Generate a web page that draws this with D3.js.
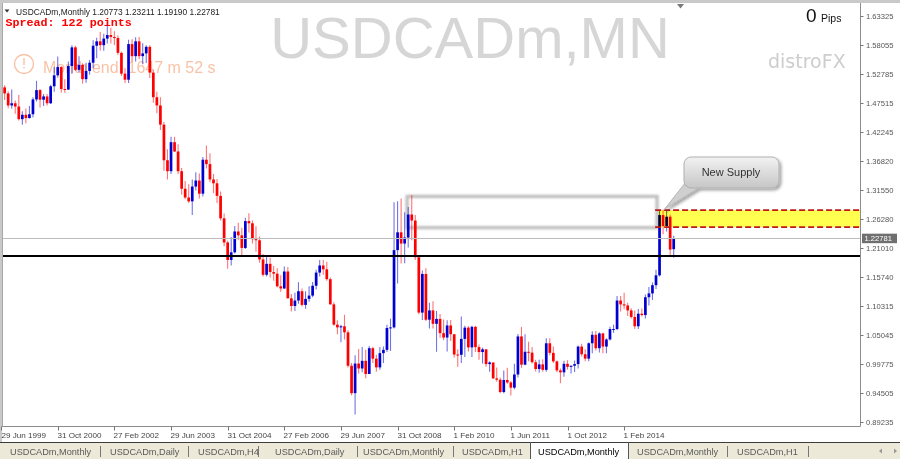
<!DOCTYPE html>
<html><head><meta charset="utf-8">
<script src="https://cdn.jsdelivr.net/npm/d3@7"></script>
<style>
body{margin:0;background:#fff;overflow:hidden}
svg{display:block;font-family:"Liberation Sans",Arial,sans-serif}
</style>
</head><body>
<svg id="c" width="900" height="459"></svg>
<script>
// ---------- DATA (monthly bars from Jul 1999 to May 2015) ----------
const firstMonth = [1999, 6]; // Jul 1999 (month index 0-based)
const open = [
1.4740,1.5030,1.4920,1.4700,1.4740,1.4680, 1.4450,1.4530,1.4470,1.4540,1.4810,1.4980,1.4805,1.4865,1.4740,1.5050,1.5250,1.5400,
1.5000,1.4990,1.5420,1.5760,1.5350,1.5440,1.5180,1.5330,1.5480,1.5790,1.5870,1.5800,
1.5920,1.5985,1.5950,1.5930,1.5660,1.5280,1.5170,1.5820,1.5600,1.5870,1.5600,1.5650,
1.5770,1.5300,1.4850,1.4700,1.4350,1.3700,1.3500,1.4030,1.3860,1.3500,1.3180,1.3020,
1.2950,1.3220,1.3330,1.3090,1.3710,1.3630,1.3350,1.3280,1.3050,1.2640,1.2200,1.1880,
1.2020,1.2400,1.2330,1.2100,1.2590,1.2550,1.2260,1.2240,1.1890,1.1610,1.1810,1.1660,
1.1630,1.1400,1.1360,1.1670,1.1180,1.1040,1.1140,1.1310,1.1060,1.1170,1.1230,1.1410,
1.1650,1.1780,1.1710,1.1530,1.1070,1.0700,1.0650,1.0670,1.0560,0.9950,0.9450,0.9990,
0.9900,1.0040,0.9800,1.0270,1.0080,0.9920,1.0180,1.0240,1.0640,1.0650,1.2060,1.2385,
1.2180,1.2290,1.2710,1.2600,1.1930,1.0920,1.1625,1.0790,1.0960,1.0715,1.0805,1.0545,
1.0465,1.0685,1.0525,1.0155,1.0150,1.0440,1.0645,1.0285,1.0660,1.0290,1.0200,1.0250,
0.9980,1.0010,0.9720,0.9695,0.9470,0.9690,0.9645,0.9550,0.9790,1.0485,0.9970,1.0205,
1.0190,1.0015,0.9890,0.9975,0.9875,1.0360,1.0185,1.0030,0.9865,0.9830,0.9985,0.9930,
0.9950,0.9980,1.0300,1.0160,1.0080,1.0360,1.0515,1.0270,1.0540,1.0300,1.0430,1.0620,
1.0620,1.1140,1.1070,1.1050,1.0960,1.0840,1.0670,1.0900,1.0875,1.1200,1.1270,1.1420,
1.1600,1.2700,1.2500,1.2670,1.20773];
const high = [
1.5200,1.5070,1.4960,1.4990,1.4790,1.4890, 1.4595,1.4645,1.4690,1.4850,1.5150,1.5000,1.4910,1.4910,1.5080,1.5400,1.5595,1.5420,
1.5180,1.5500,1.5800,1.5790,1.5600,1.5470,1.5480,1.5530,1.5890,1.5935,1.6040,1.6010,
1.6195,1.6120,1.6055,1.5980,1.5680,1.5380,1.5900,1.5910,1.5945,1.5950,1.5835,1.5800,
1.5800,1.5350,1.4950,1.4850,1.4400,1.3900,1.4130,1.4130,1.3990,1.3560,1.3320,1.3260,
1.3350,1.3480,1.3460,1.3760,1.3970,1.3830,1.3450,1.3360,1.3130,1.2730,1.2230,1.2300,
1.2500,1.2560,1.2470,1.2650,1.2735,1.2600,1.2495,1.2310,1.1990,1.1960,1.1920,1.1770,
1.1730,1.1600,1.1760,1.1750,1.1260,1.1280,1.1475,1.1360,1.1310,1.1400,1.1480,1.1700,
1.1878,1.1880,1.1850,1.1560,1.1110,1.0780,1.0700,1.0880,1.0600,1.0000,1.0140,1.0255,
1.0290,1.0240,1.0310,1.0295,1.0150,1.0290,1.0300,1.0700,1.0810,1.2935,1.2950,1.3000,
1.2750,1.2845,1.3065,1.2700,1.1940,1.1690,1.1730,1.1100,1.1125,1.0950,1.0895,1.0795,
1.0780,1.0785,1.0525,1.0250,1.0850,1.0680,1.0675,1.0680,1.0680,1.0340,1.0280,1.0250,
1.0030,1.0010,0.9920,0.9730,0.9865,0.9915,0.9670,0.9985,1.0530,1.0660,1.0525,1.0390,
1.0290,1.0060,1.0060,1.0070,1.0450,1.0450,1.0300,1.0045,0.9900,1.0040,1.0050,0.9955,
1.0045,1.0320,1.0350,1.0250,1.0380,1.0580,1.0585,1.0560,1.0550,1.0450,1.0660,1.0700,
1.1225,1.1225,1.1280,1.1100,1.1000,1.0960,1.0985,1.0995,1.1250,1.1385,1.1470,1.1700,
1.2795,1.2800,1.2800,1.2710,1.23211];
const low = [
1.4660,1.4800,1.4650,1.4640,1.4550,1.4425, 1.4350,1.4375,1.4460,1.4480,1.4770,1.4665,1.4690,1.4700,1.4725,1.4950,1.5205,1.4935,
1.4930,1.4980,1.5280,1.5330,1.5300,1.5100,1.5115,1.5260,1.5380,1.5560,1.5705,1.5700,
1.5830,1.5830,1.5805,1.5620,1.5240,1.5110,1.5110,1.5500,1.5500,1.5550,1.5450,1.5475,
1.5200,1.4750,1.4560,1.4250,1.3510,1.3350,1.3450,1.3850,1.3450,1.3070,1.2990,1.2920,
1.2700,1.3150,1.3000,1.3040,1.3550,1.3300,1.3100,1.2920,1.2600,1.2130,1.1720,1.1780,
1.2000,1.2240,1.1960,1.2080,1.2380,1.2180,1.2030,1.1830,1.1580,1.1580,1.1560,1.1500,
1.1380,1.1300,1.1350,1.1180,1.0940,1.0950,1.1080,1.1030,1.0990,1.1120,1.1200,1.1340,
1.1580,1.1610,1.1500,1.1070,1.0680,1.0525,1.0380,1.0430,0.9920,0.9410,0.9060,0.9810,
0.9830,0.9720,0.9800,1.0000,0.9840,0.9875,1.0000,1.0200,1.0220,1.0630,1.1450,1.1815,
1.1820,1.2110,1.2240,1.1880,1.0890,1.0785,1.0765,1.0630,1.0630,1.0205,1.0460,1.0415,
1.0210,1.0400,1.0100,0.9930,1.0000,1.0110,1.0210,1.0110,1.0200,1.0060,0.9990,0.9930,
0.9840,0.9710,0.9660,0.9450,0.9450,0.9620,0.9405,0.9520,0.9735,0.9910,0.9960,1.0030,
0.9990,0.9845,0.9820,0.9840,0.9840,1.0140,1.0000,0.9830,0.9630,0.9750,0.9880,0.9810,
0.9835,0.9900,1.0120,1.0030,1.0030,1.0180,1.0230,1.0190,1.0180,1.0180,1.0410,1.0550,
1.0600,1.0940,1.0980,1.0860,1.0810,1.0620,1.0620,1.0850,1.0810,1.1050,1.1150,1.1350,
1.1580,1.2350,1.2400,1.1950,1.19190];
const close = [
1.5030,1.4920,1.4700,1.4740,1.4680,1.4450, 1.4530,1.4470,1.4540,1.4810,1.4980,1.4805,1.4865,1.4740,1.5050,1.5250,1.5400,1.5000,
1.4990,1.5420,1.5760,1.5350,1.5440,1.5180,1.5330,1.5480,1.5790,1.5870,1.5800,1.5920,
1.5985,1.5950,1.5930,1.5660,1.5280,1.5170,1.5820,1.5600,1.5870,1.5600,1.5650,1.5770,
1.5300,1.4850,1.4700,1.4350,1.3700,1.3500,1.4030,1.3860,1.3500,1.3180,1.3020,1.2950,
1.3220,1.3330,1.3090,1.3710,1.3630,1.3350,1.3280,1.3050,1.2640,1.2200,1.1880,1.2020,
1.2400,1.2330,1.2100,1.2590,1.2550,1.2260,1.2240,1.1890,1.1610,1.1810,1.1660,1.1630,
1.1400,1.1360,1.1670,1.1180,1.1040,1.1140,1.1310,1.1060,1.1170,1.1230,1.1410,1.1650,
1.1780,1.1710,1.1530,1.1070,1.0700,1.0650,1.0670,1.0560,0.9950,0.9450,0.9990,0.9900,
1.0040,0.9800,1.0270,1.0080,0.9920,1.0180,1.0240,1.0640,1.0650,1.2060,1.2385,1.2180,
1.2290,1.2710,1.2600,1.1930,1.0920,1.1625,1.0790,1.0960,1.0715,1.0805,1.0545,1.0465,
1.0685,1.0525,1.0155,1.0150,1.0440,1.0645,1.0285,1.0660,1.0290,1.0200,1.0250,0.9980,
1.0010,0.9720,0.9695,0.9470,0.9690,0.9645,0.9550,0.9790,1.0485,0.9970,1.0205,1.0190,
1.0015,0.9890,0.9975,0.9875,1.0360,1.0185,1.0030,0.9865,0.9830,0.9985,0.9930,0.9950,
0.9980,1.0300,1.0160,1.0080,1.0360,1.0515,1.0270,1.0540,1.0300,1.0430,1.0620,1.0620,
1.1140,1.1070,1.1050,1.0960,1.0840,1.0670,1.0900,1.0875,1.1200,1.1270,1.1420,1.1600,
1.2700,1.2500,1.2670,1.2070,1.22781];

const priceTicks = [1.63325,1.58055,1.52785,1.47515,1.42245,1.36820,1.31550,1.26280,1.21010,1.15740,1.10315,1.05045,0.99775,0.94505,0.89235];
const timeTickBars = [0,16,32,48,64,80,96,112,128,144,160,176];
const timeTickLabels = ["29 Jun 1999","31 Oct 2000","27 Feb 2002","29 Jun 2003","31 Oct 2004","27 Feb 2006","29 Jun 2007","31 Oct 2008","1 Feb 2010","1 Jun 2011","1 Oct 2012","1 Feb 2014"];
const tabLabels = ["USDCADm,Monthly","USDCADm,Daily","USDCADm,H4","USDCADm,Daily","USDCADm,Monthly","USDCADm,H1","USDCADm,Monthly","USDCADm,Monthly","USDCADm,H1"];
const activeTab = 6;
const symbol = "USDCADm,Monthly";
const lastBar = {o:1.20773,h:1.23211,l:1.19190,c:1.22781};
const bidPrice = 1.22781;
const levelPrice = 1.1955;
const oldZone = {start:114.7, end:185.3, hi:1.3040, lo:1.2470};
const newZone = {start:185.6, hi:1.2790, lo:1.2480};

// ---------- SCALES ----------
const W=900,H=459;
const plot = {l:2, r:860.5, t:4, b:426.5};
const x = d3.scaleLinear().domain([0, open.length-1]).range([1.1, 1.1+(open.length-1)*3.54]);
const y = d3.scaleLinear().domain([0.89235,1.63325]).range([422,16]);

const svg = d3.select("#c");
const defs = svg.append("defs");
defs.append("clipPath").attr("id","clip").append("rect")
  .attr("x",plot.l).attr("y",plot.t).attr("width",plot.r-plot.l).attr("height",plot.b-plot.t);
const blur = defs.append("filter").attr("id","soft").attr("x","-5%").attr("y","-20%").attr("width","110%").attr("height","140%");
blur.append("feGaussianBlur").attr("stdDeviation",0.8);
const sh = defs.append("filter").attr("id","shadow").attr("x","-20%").attr("y","-30%").attr("width","150%").attr("height","170%");
sh.append("feDropShadow").attr("dx",2).attr("dy",2).attr("stdDeviation",1.6).attr("flood-color","#000").attr("flood-opacity",0.35);
const grad = defs.append("linearGradient").attr("id","cg").attr("x1",0).attr("y1",0).attr("x2",0).attr("y2",1);
grad.append("stop").attr("offset","0%").attr("stop-color","#f2f2f2");
grad.append("stop").attr("offset","100%").attr("stop-color","#c6c6c6");

// background / frame
svg.append("rect").attr("width",W).attr("height",H).attr("fill","#fff");
svg.append("rect").attr("x",0).attr("y",0).attr("width",W).attr("height",3).attr("fill","#c9c9c9");
svg.append("rect").attr("x",0).attr("y",0).attr("width",2).attr("height",442).attr("fill","#c9c9c9");

const g = svg.append("g").attr("clip-path","url(#clip)");

// watermark
g.append("text").attr("x",470).attr("y",58).attr("text-anchor","middle")
  .attr("font-size",58).attr("fill","#d6d6d6").text("USDCADm,MN");
g.append("text").attr("x",768).attr("y",68).attr("font-family","DejaVu Sans, sans-serif")
  .attr("font-size",19).attr("fill","#cdcdcd").text("distroFX");

// timer
const tc = "#f9c2a6";
g.append("circle").attr("cx",24).attr("cy",64).attr("r",9.5).attr("fill","none").attr("stroke",tc).attr("stroke-width",1.4);
g.append("line").attr("x1",24).attr("x2",24).attr("y1",58).attr("y2",65).attr("stroke",tc).attr("stroke-width",1.4);
g.append("line").attr("x1",24).attr("x2",24).attr("y1",67).attr("y2",68.5).attr("stroke",tc).attr("stroke-width",1.4);
g.append("text").attr("x",43).attr("y",73).attr("font-size",16).attr("fill",tc).text("Month end: 1647 m 52 s");

// old supply box
g.append("rect").attr("x",x(oldZone.start)).attr("y",y(oldZone.hi))
  .attr("width",x(oldZone.end)-x(oldZone.start)).attr("height",y(oldZone.lo)-y(oldZone.hi))
  .attr("fill","none").attr("stroke","#bdbdbd").attr("stroke-width",3.2).attr("filter","url(#soft)");

// candles
const bars = d3.range(open.length).map(i=>({i,o:open[i],h:high[i],l:low[i],c:close[i]}));
const cg = g.append("g");
const col = d=> d.c>=d.o ? "#0000d0" : "#ff0000";
cg.selectAll("line.w").data(bars).join("line").attr("class","w")
  .attr("x1",d=>x(d.i)).attr("x2",d=>x(d.i)).attr("y1",d=>y(d.h)).attr("y2",d=>y(d.l))
  .attr("stroke",col).attr("stroke-opacity",0.55).attr("stroke-width",1.1);
cg.selectAll("rect.b").data(bars).join("rect").attr("class","b")
  .attr("x",d=>x(d.i)-1.35).attr("width",2.7)
  .attr("y",d=>y(Math.max(d.o,d.c)))
  .attr("height",d=>Math.max(1,Math.abs(y(d.o)-y(d.c))))
  .attr("fill",col);

// new supply zone (yellow, multiply)
g.append("rect").attr("x",x(newZone.start)).attr("y",y(newZone.hi))
  .attr("width",plot.r-x(newZone.start)).attr("height",y(newZone.lo)-y(newZone.hi))
  .attr("fill","#ffff50").style("mix-blend-mode","multiply");
[newZone.hi,newZone.lo].forEach(p=>{
  g.append("line").attr("x1",x(newZone.start)-3).attr("x2",plot.r).attr("y1",y(p)).attr("y2",y(p))
   .attr("stroke","#c01818").attr("stroke-width",1.6).attr("stroke-dasharray","6,3");
});

// horizontal lines
g.append("line").attr("x1",plot.l).attr("x2",plot.r).attr("y1",Math.round(y(bidPrice))+0.5).attr("y2",Math.round(y(bidPrice))+0.5)
  .attr("stroke","#bcbcbc").attr("stroke-width",1.2);
g.append("line").attr("x1",plot.l).attr("x2",plot.r+3).attr("y1",Math.round(y(levelPrice))).attr("y2",Math.round(y(levelPrice)))
  .attr("stroke","#000").attr("stroke-width",2);

// callout
const tipX = x(186.3), tipY = y(newZone.hi)-1;
const cb = svg.append("g").attr("filter","url(#shadow)");
cb.append("path").attr("d",`M${tipX+26},${tipY-28} L${tipX+46},${tipY-26} L${tipX+4},${tipY} Z`).attr("fill","#cfcfcf").attr("stroke","#b5b5b5");
cb.append("rect").attr("x",684).attr("y",157).attr("width",95).attr("height",31).attr("rx",7)
  .attr("fill","url(#cg)").attr("stroke","#b0b0b0");
svg.append("text").attr("x",731).attr("y",176).attr("text-anchor","middle").attr("font-size",11).attr("fill","#333").text("New Supply");

// plot frame
svg.append("line").attr("x1",2.5).attr("x2",2.5).attr("y1",3).attr("y2",plot.b).attr("stroke","#a8a8a8");
svg.append("line").attr("x1",plot.r).attr("x2",plot.r).attr("y1",3).attr("y2",plot.b).attr("stroke","#8c8c8c");
svg.append("line").attr("x1",2).attr("x2",plot.r).attr("y1",plot.b).attr("y2",plot.b).attr("stroke","#8c8c8c");
svg.append("path").attr("d","M677,4 L684,4 L680.5,8.5 Z").attr("fill","#7a7a7a");

// right axis
const ra = svg.append("g");
priceTicks.forEach(p=>{
  const yy = Math.round(y(p))+0.5;
  ra.append("line").attr("x1",plot.r).attr("x2",plot.r+3).attr("y1",yy).attr("y2",yy).attr("stroke","#777");
  ra.append("text").attr("x",866).attr("y",yy+2.7).attr("font-size",7.6).attr("fill","#555").text(p.toFixed(5));
});
const by = y(bidPrice);
ra.append("rect").attr("x",862).attr("y",by-4.5).attr("width",35).attr("height",9.5).attr("fill","#6f6f6f");
ra.append("text").attr("x",864.5).attr("y",by+3).attr("font-size",7.6).attr("fill","#fff").text(bidPrice.toFixed(5));

// bottom axis
const ba = svg.append("g");
timeTickBars.forEach((b,k)=>{
  const xx = Math.round(x(b))+0.5;
  ba.append("line").attr("x1",xx).attr("x2",xx).attr("y1",plot.b).attr("y2",plot.b+4).attr("stroke","#777");
  ba.append("text").attr("x",Math.max(1.5,xx-1)).attr("y",438).attr("font-size",8.1).attr("fill","#444").text(timeTickLabels[k]);
});

// header
svg.append("path").attr("d","M4.5,9.5 L9.5,9.5 L7,12.5 Z").attr("fill","#333");
svg.append("text").attr("x",16).attr("y",14.5).attr("font-size",8.4).attr("fill","#222")
  .text(`${symbol}  ${lastBar.o.toFixed(5)} ${lastBar.h.toFixed(5)} ${lastBar.l.toFixed(5)} ${lastBar.c.toFixed(5)}`);
svg.append("text").attr("x",5.5).attr("y",25.5).attr("font-family","Liberation Mono, Courier New, monospace")
  .attr("font-weight","bold").attr("font-size",11.7).attr("fill","#ff0000").text("Spread: 122 points");
svg.append("text").attr("x",806).attr("y",22).attr("font-size",19).attr("fill","#111").text("0");
svg.append("text").attr("x",821).attr("y",22).attr("font-size",10.5).attr("fill","#111").text("Pips");

// tabs
svg.append("rect").attr("x",0).attr("y",442).attr("width",W).attr("height",17).attr("fill","#ece9d8");
svg.append("line").attr("x1",0).attr("x2",W).attr("y1",442.5).attr("y2",442.5).attr("stroke","#3c3c3c");
const tabX = [10,110,198,275,363,462,538,637,737];
const sepX = [100,188,258,357,453,727,808];
svg.append("rect").attr("x",530).attr("y",443).attr("width",98).attr("height",16).attr("fill","#fdfdfd");
svg.append("line").attr("x1",530.5).attr("x2",530.5).attr("y1",442).attr("y2",459).attr("stroke","#555");
svg.append("line").attr("x1",628.5).attr("x2",628.5).attr("y1",442).attr("y2",459).attr("stroke","#555");
sepX.forEach(s=>svg.append("line").attr("x1",s+0.5).attr("x2",s+0.5).attr("y1",446).attr("y2",457).attr("stroke","#777"));
tabLabels.forEach((t,k)=>{
  svg.append("text").attr("x",tabX[k]).attr("y",455).attr("font-size",9.2)
    .attr("fill",k===activeTab?"#000":"#5a5a5a").text(t);
});
svg.append("path").attr("d","M882,448.5 L879,451 L882,453.5 Z").attr("fill","#999");
svg.append("path").attr("d","M894,448.5 L897,451 L894,453.5 Z").attr("fill","#999");
</script>
</body></html>
